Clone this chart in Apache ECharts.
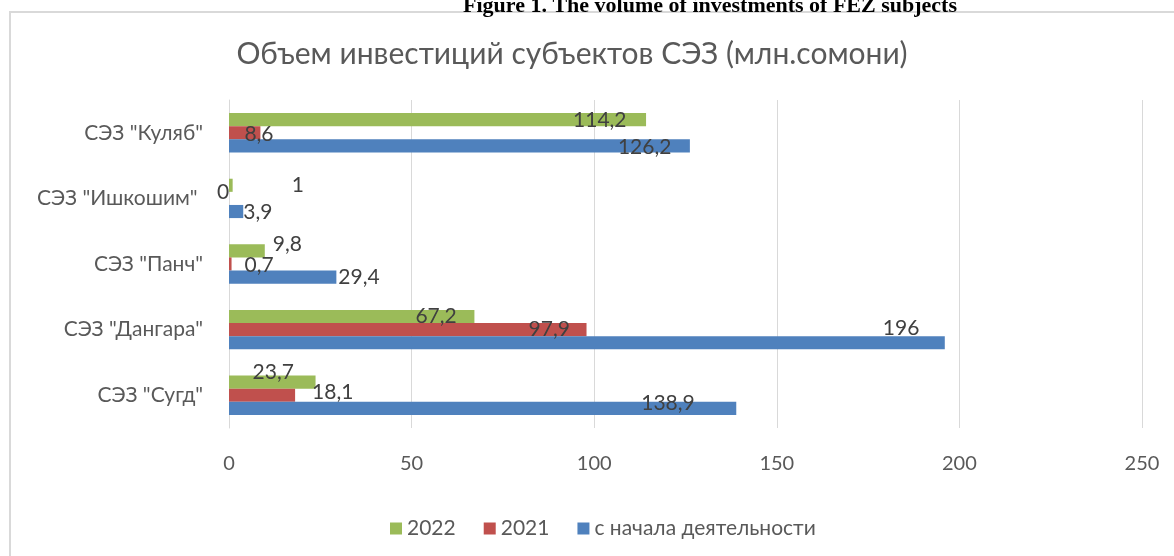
<!DOCTYPE html>
<html>
<head>
<meta charset="utf-8">
<script src="https://cdn.jsdelivr.net/npm/echarts@6/dist/echarts.min.js"></script>
<style>
  html, body { margin: 0; padding: 0; background: #fff; }
  #chart { width: 1174px; height: 556px; }
</style>
</head>
<body>
<div id="chart"></div>
<script>
// categories bottom-to-top, as the category axis draws them
const categories = ['СЭЗ "Сугд"', 'СЭЗ "Дангара"', 'СЭЗ "Панч"', 'СЭЗ "Ишкошим" ', 'СЭЗ "Куляб"']
const sinceStart = [138.9, 196, 29.4, 3.9, 126.2]
const y2021 = [18.1, 97.9, 0.7, 0, 8.6]
const y2022 = [23.7, 67.2, 9.8, 1, 114.2]
const xTicks = [0, 250, 50] // min, max, step

// label nudges (px) so the labels sit where they do in the source figure
const shiftStart = [[-95, -5], [-62, -14], [2, 0], [0, 1], [-72, 1]]
const shift2021 = [[17, -3], [-58, 0], [13, 1], [-12, -6], [-16, 1]]
const shift2022 = [[-63, -10], [-59, 0], [8, -7], [59, 0], [-73, 1]]

const FONT = 'Lato, "Open Sans", sans-serif'

let chartDom = document.getElementById('chart')
let myChart = echarts.init(chartDom)

function withLabels (values, shifts) {
  return values.map((v, i) => ({ value: v, label: { offset: shifts[i] } }))
}

let baseLabel = {
  show: true,
  position: 'right',
  distance: 0,
  color: '#404040',
  fontSize: 21,
  fontFamily: FONT,
  formatter: p => String(p.value).replace('.', ',')
}

let option = {
  animation: false,
  textStyle: { fontFamily: FONT },
  title: {
    text: 'Объем инвестиций субъектов СЭЗ (млн.сомони)',
    left: 567,
    top: 34,
    textAlign: 'center',
    textStyle: { color: '#595959', fontSize: 30, fontWeight: 'normal', fontFamily: FONT }
  },
  graphic: [
    {
      type: 'rect',
      shape: { x: 10, y: 12, width: 1300, height: 700 },
      style: { fill: 'none', stroke: '#d9d9d9', lineWidth: 2 },
      z: -1
    },
    {
      type: 'text',
      x: 710,
      y: 17,
      style: {
        text: 'Figure 1. The volume of investments of FEZ subjects',
        font: 'bold 22px "Liberation Serif", serif',
        fill: '#000',
        align: 'center',
        verticalAlign: 'bottom'
      }
    }
  ],
  legend: {
    data: ['2022', '2021', 'с начала деятельности'],
    left: 385,
    top: 513,
    icon: 'rect',
    itemWidth: 12,
    itemHeight: 12,
    itemGap: 28,
    textStyle: { color: '#595959', fontSize: 21, fontFamily: FONT }
  },
  grid: {
    left: 229,
    right: 32,
    top: 100,
    bottom: 128
  },
  xAxis: {
    type: 'value',
    min: xTicks[0],
    max: xTicks[1],
    interval: xTicks[2],
    axisLine: { show: false },
    axisTick: { show: false },
    splitLine: { lineStyle: { color: '#d9d9d9', width: 1 } },
    axisLabel: { color: '#595959', fontSize: 20, margin: 26, fontFamily: FONT }
  },
  yAxis: {
    type: 'category',
    data: categories,
    axisLine: { show: true, lineStyle: { color: '#d9d9d9', width: 1 } },
    axisTick: { show: false },
    axisLabel: { color: '#595959', fontSize: 21, margin: 26, fontFamily: FONT }
  },
  // first series is drawn at the top of each group
  series: [
    {
      name: '2022',
      type: 'bar',
      barGap: '0%',
      barCategoryGap: '40%',
      itemStyle: { color: '#9BBB59' },
      label: baseLabel,
      data: withLabels(y2022, shift2022)
    },
    {
      name: '2021',
      type: 'bar',
      barGap: '0%',
      barCategoryGap: '40%',
      itemStyle: { color: '#C0504D' },
      label: baseLabel,
      data: withLabels(y2021, shift2021)
    },
    {
      name: 'с начала деятельности',
      type: 'bar',
      barGap: '0%',
      barCategoryGap: '40%',
      itemStyle: { color: '#4F81BD' },
      label: baseLabel,
      data: withLabels(sinceStart, shiftStart)
    }
  ]
}

option && myChart.setOption(option)
</script>
</body>
</html>
